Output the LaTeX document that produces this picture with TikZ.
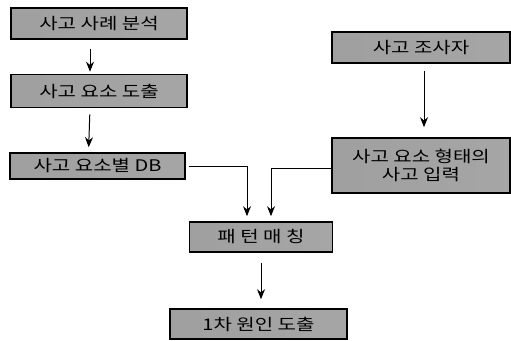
\documentclass[tikz,border=0pt]{standalone}
\usepackage{fontspec}
\setmainfont[FakeStretch=1.25]{Noto Sans CJK KR}
\usetikzlibrary{positioning, arrows.meta, calc}

\begin{document}
\begin{tikzpicture}[
        x=1pt, y=-1pt,
        stagebox/.style={draw, line width=1.6pt, rectangle, left color=gray!75, middle color=gray!30, right color=gray!70, text=black, align=center, inner sep=0pt, font=\fontsize{16}{18}\selectfont},
        arrow/.style={-{Stealth[length=10pt, width=8pt]}, line width=1pt}
    ]
    \useasboundingbox (0,0) rectangle (511,340);

    \node[stagebox, minimum width=176pt, minimum height=31pt] (Case) at (99,23.5) {사고 사례 분석};
    \node[stagebox, minimum width=176pt, minimum height=33pt] (Factor) at (99,91) {사고 요소 도출};
    \node[stagebox, minimum width=175pt, minimum height=26pt] (FactorDB) at (97.5,166) {사고 요소별 DB};
    \node[stagebox, minimum width=178pt, minimum height=31pt] (Inspector) at (421,47.5) {사고 조사자};
    \node[stagebox, minimum width=178pt, minimum height=55pt] (Input) at (421,165.5) {사고 요소 형태의\\사고 입력};
    \node[stagebox, minimum width=143pt, minimum height=30pt] (Match) at (261,237) {패 턴 매 칭};
    \node[stagebox, minimum width=177pt, minimum height=30pt] (Cause) at (258.5,324) {1차 원인 도출};

    \draw[arrow, shorten <=9pt, shorten >=2pt] ([xshift=-9pt]Case.south) -- ([xshift=-9pt]Factor.north);
    \draw[arrow, shorten <=6pt, shorten >=5pt] ([xshift=-9pt]Factor.south) -- ([xshift=-9pt]FactorDB.north);
    \draw[arrow, shorten <=7pt, shorten >=10pt] ([xshift=3pt]Inspector.south) -- ([xshift=3pt]Input.north);
    \draw[arrow, shorten >=5pt] ([xshift=3pt]FactorDB.east) -| ([xshift=-14pt]Match.north);
    \draw[arrow, shorten >=5pt] ([yshift=-3pt]Input.west) -| ([xshift=10pt]Match.north);
    \draw[arrow, shorten <=10pt, shorten >=9pt] (Match) -- (Match |- Cause.north);

\end{tikzpicture}
\end{document}
